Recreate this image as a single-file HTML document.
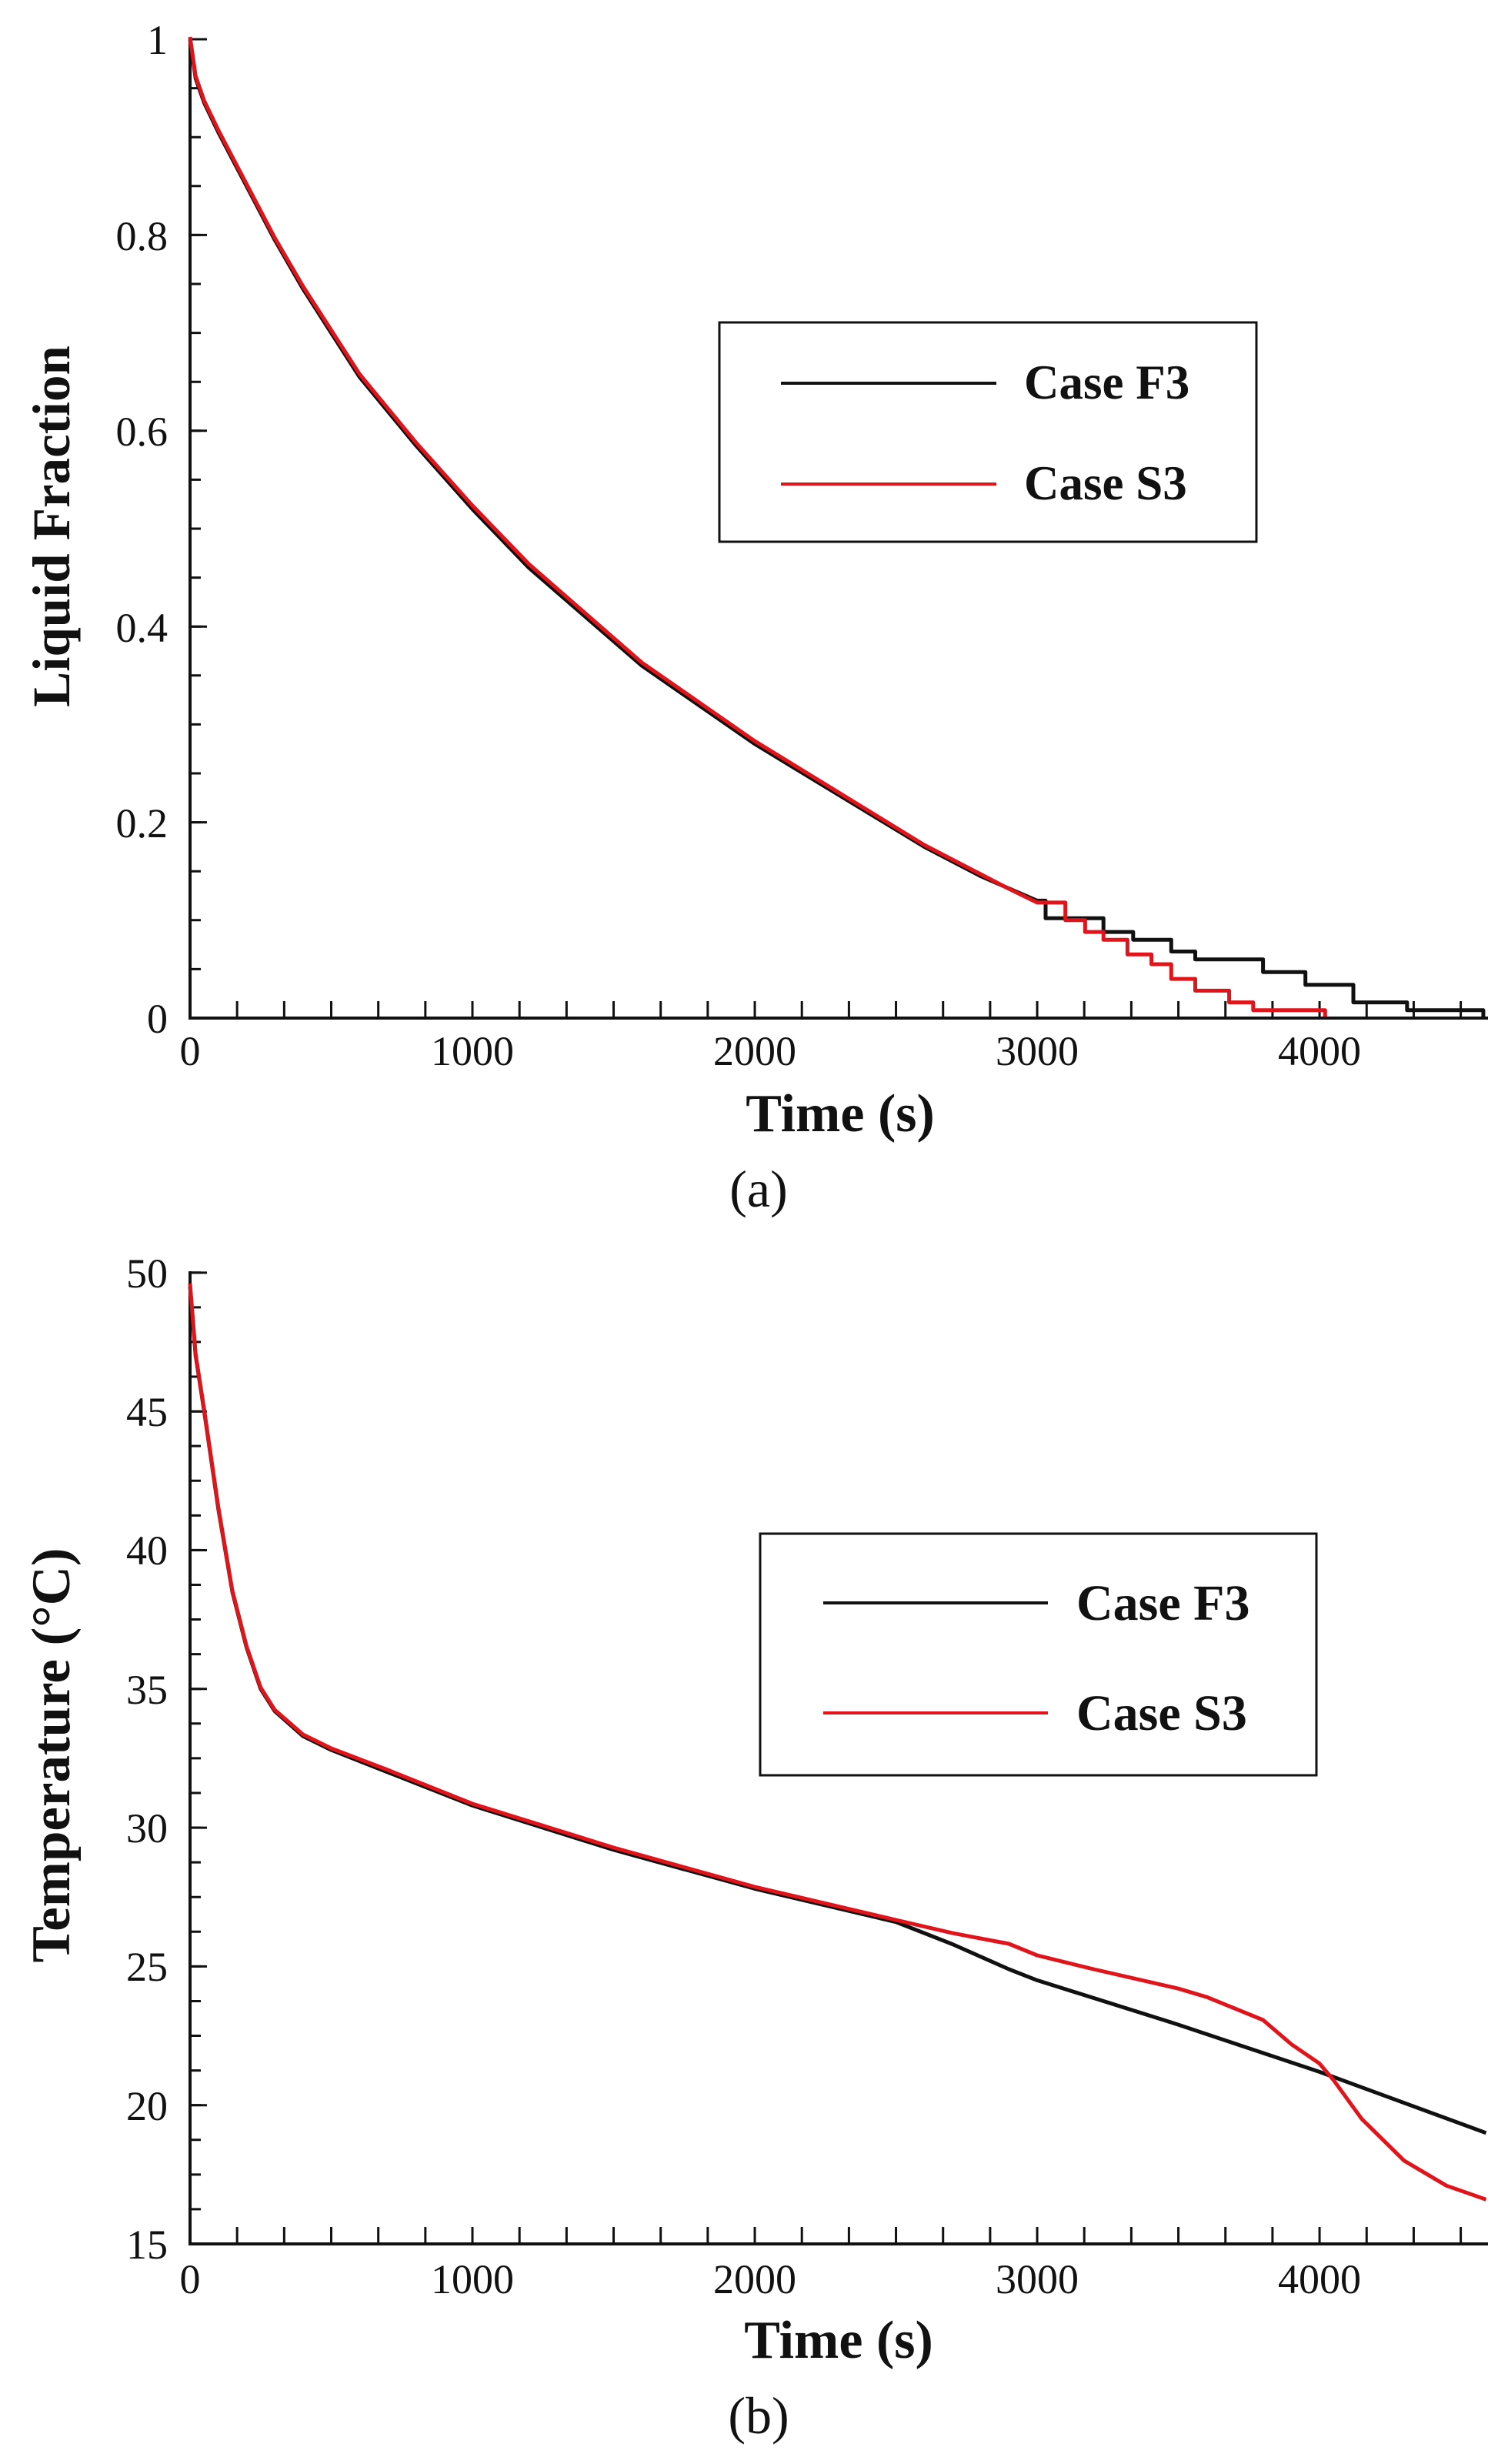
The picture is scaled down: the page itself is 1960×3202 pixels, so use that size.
<!DOCTYPE html>
<html><head><meta charset="utf-8"><style>
html,body{margin:0;padding:0;background:#fff;}
svg{display:block;}
text{font-family:"Liberation Serif",serif;fill:#111;}
.t{font-size:54px;}
.b{font-weight:bold;}
</style></head><body>
<svg width="1960" height="3202" viewBox="0 0 1960 3202" xmlns="http://www.w3.org/2000/svg">
<!-- Plot A -->
<g stroke="#111" fill="none">
<line x1="247" y1="49" x2="247" y2="1325" stroke-width="4"/>
<line x1="245" y1="1323" x2="1934" y2="1323" stroke-width="4"/>
<line x1="245.5" y1="1312" x2="1934" y2="1312" stroke-width="22" stroke-dasharray="3 58.17"/>
<line x1="254" y1="1324.5" x2="254" y2="49" stroke-width="14" stroke-dasharray="3 60.6"/>
<line x1="258" y1="1324.5" x2="258" y2="49" stroke-width="22" stroke-dasharray="3 251.4"/>
</g>
<g class="t" text-anchor="end">
<text x="218" y="1342">0</text>
<text x="218" y="1088">0.2</text>
<text x="218" y="834">0.4</text>
<text x="218" y="579">0.6</text>
<text x="218" y="325">0.8</text>
<text x="218" y="70">1</text>
</g>
<g class="t" text-anchor="middle">
<text x="247" y="1384">0</text>
<text x="614" y="1384">1000</text>
<text x="981" y="1384">2000</text>
<text x="1348" y="1384">3000</text>
<text x="1715" y="1384">4000</text>
</g>
<text x="1092" y="1470" text-anchor="middle" class="b" font-size="70">Time (s)</text>
<text x="986" y="1568" text-anchor="middle" font-size="68">(a)</text>
<text transform="translate(90,684) rotate(-90)" text-anchor="middle" class="b" font-size="69">Liquid Fraction</text>
<g fill="none" stroke-width="5" stroke-linejoin="round">
<polyline stroke="#111" points="247,51 254.3,102 265.4,133.7 283.7,171.8 320.4,241.8 357.1,311.8 393.8,375.4 430.5,432.6 467.2,489.8 540.6,578.9 614,661.6 687.4,737.9 760.8,801.5 834.2,865.1 907.6,916 981,966.8 1054.4,1011.4 1127.8,1055.9 1201.2,1100.4 1274.6,1138.6 1348,1170.4 1359,1170.4 1359,1193.3 1434.2,1193.3 1434.2,1211.1 1472.8,1211.1 1472.8,1221.2 1522.3,1221.2 1522.3,1236.5 1553.5,1236.5 1553.5,1246.7 1641.6,1246.7 1641.6,1263.2 1696.7,1263.2 1696.7,1279.8 1759,1279.8 1759,1302.6 1828.8,1302.6 1828.8,1312.8 1927.9,1312.8 1927.9,1321"/>
<polyline stroke="#e0151b" points="247,48 254.3,99 265.4,131 283.7,169 320.4,239 357.1,309 393.8,372 430.5,429 467.2,486 540.6,575 614,657 687.4,733 760.8,797 834.2,861 907.6,912 981,963 1054.4,1008 1127.8,1053 1201.2,1098 1274.6,1136 1311.3,1155 1348,1172.9 1384.7,1172.9 1384.7,1195.8 1410.4,1195.8 1410.4,1211.1 1434.2,1211.1 1434.2,1221.2 1465.4,1221.2 1465.4,1240.3 1496.6,1240.3 1496.6,1253 1522.3,1253 1522.3,1272.1 1553.5,1272.1 1553.5,1287.4 1597.6,1287.4 1597.6,1302.6 1628.8,1302.6 1628.8,1312.8 1722.3,1312.8 1722.3,1321"/>
</g>
<rect x="935" y="419" width="698" height="285" fill="#fff" stroke="#111" stroke-width="3"/>
<line x1="1015" y1="498" x2="1295" y2="498" stroke="#111" stroke-width="4"/>
<line x1="1015" y1="629" x2="1295" y2="629" stroke="#e0151b" stroke-width="4"/>
<text x="1331" y="518" class="b" font-size="63">Case F3</text>
<text x="1331" y="649" class="b" font-size="63">Case S3</text>

<!-- Plot B -->
<g stroke="#111" fill="none">
<line x1="247" y1="1652" x2="247" y2="2918" stroke-width="4"/>
<line x1="245" y1="2916" x2="1934" y2="2916" stroke-width="4"/>
<line x1="245.5" y1="2905" x2="1934" y2="2905" stroke-width="22" stroke-dasharray="3 58.17"/>
<line x1="254" y1="2917.5" x2="254" y2="1652" stroke-width="14" stroke-dasharray="3 42.08"/>
<line x1="258" y1="2917.5" x2="258" y2="1652" stroke-width="22" stroke-dasharray="3 177.3"/>
</g>
<g class="t" text-anchor="end">
<text x="218" y="2935">15</text>
<text x="218" y="2755">20</text>
<text x="218" y="2574">25</text>
<text x="218" y="2394">30</text>
<text x="218" y="2214">35</text>
<text x="218" y="2033">40</text>
<text x="218" y="1853">45</text>
<text x="218" y="1673">50</text>
</g>
<g class="t" text-anchor="middle">
<text x="247" y="2980">0</text>
<text x="614" y="2980">1000</text>
<text x="981" y="2980">2000</text>
<text x="1348" y="2980">3000</text>
<text x="1715" y="2980">4000</text>
</g>
<text x="1090" y="3064" text-anchor="middle" class="b" font-size="70">Time (s)</text>
<text x="986" y="3162" text-anchor="middle" font-size="68">(b)</text>
<text transform="translate(90,2281) rotate(-90)" text-anchor="middle" class="b" font-size="71">Temperature (°C)</text>
<g fill="none" stroke-width="5" stroke-linejoin="round">
<polyline stroke="#111" points="247,1672 254.3,1762 265.4,1834 283.7,1960.4 302,2068.6 320.4,2140.7 338.8,2194.8 357.1,2223.6 393.8,2256.1 430.5,2274.1 503.9,2303 614,2346.3 797.5,2403.9 981,2454.4 1164.5,2497.7 1237.9,2526.5 1311.3,2559 1348,2573.4 1531.5,2631.1 1715,2692.4 1931.5,2771.8"/>
<polyline stroke="#e0151b" points="247,1668 254.3,1760 265.4,1832 283.7,1958 302,2067 320.4,2139 338.8,2193 357.1,2222 393.8,2254 430.5,2272 503.9,2300 614,2344 797.5,2401 981,2452 1164.5,2495 1237.9,2512.1 1311.3,2526 1348,2541 1421.4,2559 1531.5,2584.2 1568.2,2595.1 1641.6,2625 1678.3,2656.4 1715,2681.6 1733.4,2703.3 1770,2753.7 1825,2807.8 1880,2840.3 1931.5,2858.3"/>
</g>
<rect x="988" y="1993" width="723" height="314" fill="#fff" stroke="#111" stroke-width="3"/>
<line x1="1070" y1="2083" x2="1362" y2="2083" stroke="#111" stroke-width="4"/>
<line x1="1070" y1="2226" x2="1362" y2="2226" stroke="#e0151b" stroke-width="4"/>
<text x="1399" y="2105" class="b" font-size="66">Case F3</text>
<text x="1399" y="2248" class="b" font-size="66">Case S3</text>
</svg>
</body></html>
